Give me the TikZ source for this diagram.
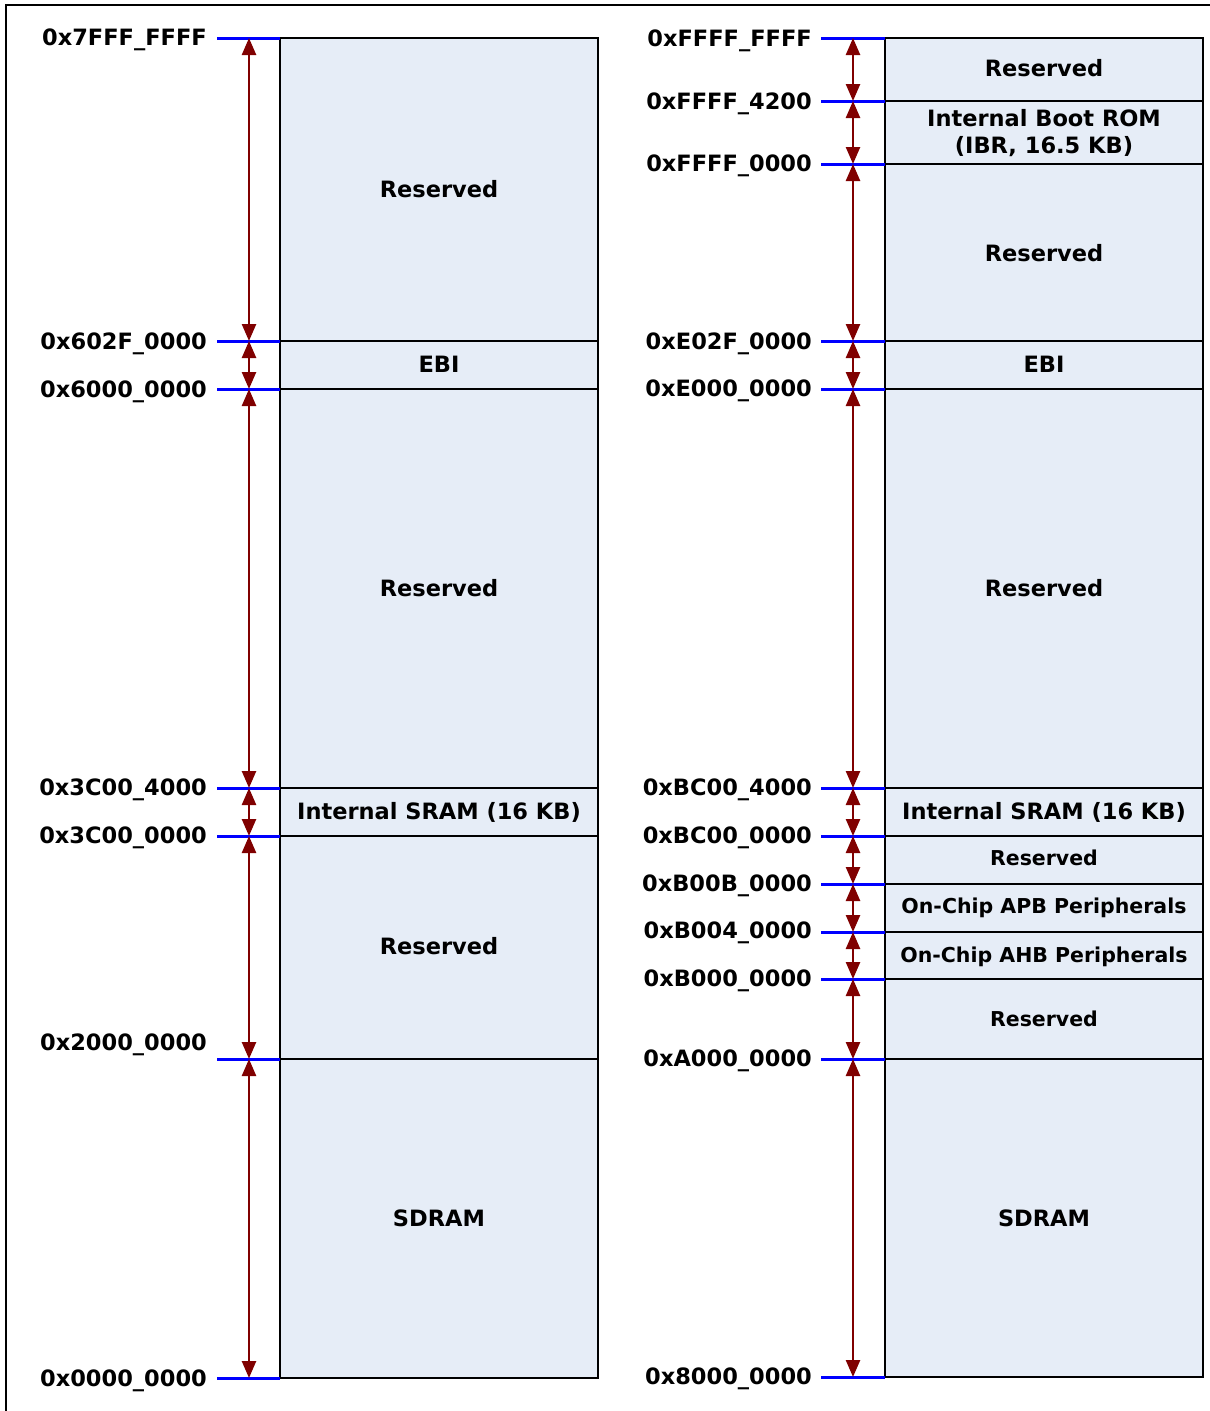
\documentclass[tikz,border=0pt]{standalone}
\usepackage{fontspec}
\setmainfont{DejaVu Sans}
\usetikzlibrary{arrows.meta}
\definecolor{regfill}{HTML}{E6EDF7}
\definecolor{arr}{HTML}{800000}
\begin{document}
\begin{tikzpicture}[x=1pt,y=-1pt,
  region/.style={draw=black,line width=2.6pt,fill=regfill},
  divider/.style={draw=black,line width=2.6pt},
  addr/.style={anchor=base east,font=\bfseries\fontsize{22.5}{27}\selectfont,inner sep=0pt},
  lbl/.style={anchor=base,font=\bfseries\fontsize{22.5}{27}\selectfont,align=center,inner sep=0pt},
  slbl/.style={anchor=base,font=\bfseries\fontsize{20.5}{24}\selectfont,align=center,inner sep=0pt},
  tickline/.style={blue,line width=3pt},
  span/.style={arr,line width=2.5pt,{Triangle[length=17pt,width=14pt]}-{Triangle[length=17pt,width=14pt]}}]
\useasboundingbox (0,0) rectangle (1210,1411);
% frame
\draw[line width=2.5pt] (6,1411) -- (6,5) -- (1210,5);

% ---------------- left column ----------------
\draw[region] (280,38) rectangle (598,1378);
\foreach \y [count=\i] in {38,341,389,788,836,1059,1378} {
  \coordinate (La\i) at (249,\y);
  \coordinate (Lt\i) at (217,\y);
  \coordinate (Lb\i) at (280,\y);
  \coordinate (Lr\i) at (598,\y);
}
\foreach \i in {2,...,6} \draw[divider] (Lb\i) -- (Lr\i);
\foreach \i in {1,...,7} \draw[tickline] (Lt\i) -- (Lb\i);
\foreach \i [evaluate=\i as \j using int(\i+1)] in {1,...,6} \draw[span] (La\i) -- (La\j);

\node[addr] (la1) at (207,45) {0x7FFF\_FFFF};
\node[addr] (la2) at (207,349) {0x602F\_0000};
\node[addr] (la3) at (207,397) {0x6000\_0000};
\node[addr] (la4) at (207,795) {0x3C00\_4000};
\node[addr] (la5) at (207,843) {0x3C00\_0000};
\node[addr] (la6) at (207,1050) {0x2000\_0000};
\node[addr] (la7) at (207,1386) {0x0000\_0000};

\node[lbl] (lr1) at (439,197) {Reserved};
\node[lbl] (lr2) at (439,372) {EBI};
\node[lbl] (lr3) at (439,596) {Reserved};
\node[lbl] (lr4) at (439,819) {Internal SRAM (16 KB)};
\node[lbl] (lr5) at (439,954) {Reserved};
\node[lbl] (lr6) at (439,1226) {SDRAM};

% ---------------- right column ----------------
\draw[region] (885,38) rectangle (1203,1377);
\foreach \y [count=\i] in {38,101,164,341,389,788,836,884,932,979,1059,1377} {
  \coordinate (Ra\i) at (853,\y);
  \coordinate (Rt\i) at (821,\y);
  \coordinate (Rb\i) at (885,\y);
  \coordinate (Rr\i) at (1203,\y);
}
\foreach \i in {2,...,11} \draw[divider] (Rb\i) -- (Rr\i);
\foreach \i in {1,...,12} \draw[tickline] (Rt\i) -- (Rb\i);
\foreach \i [evaluate=\i as \j using int(\i+1)] in {1,...,11} \draw[span] (Ra\i) -- (Ra\j);

\node[addr] (ra1) at (812,46) {0xFFFF\_FFFF};
\node[addr] (ra2) at (812,109) {0xFFFF\_4200};
\node[addr] (ra3) at (812,171) {0xFFFF\_0000};
\node[addr] (ra4) at (812,349) {0xE02F\_0000};
\node[addr] (ra5) at (812,396) {0xE000\_0000};
\node[addr] (ra6) at (812,795) {0xBC00\_4000};
\node[addr] (ra7) at (812,843) {0xBC00\_0000};
\node[addr] (ra8) at (812,891) {0xB00B\_0000};
\node[addr] (ra9) at (812,938) {0xB004\_0000};
\node[addr] (ra10) at (812,986) {0xB000\_0000};
\node[addr] (ra11) at (812,1066) {0xA000\_0000};
\node[addr] (ra12) at (812,1384) {0x8000\_0000};

\node[lbl] (rr1) at (1044,76) {Reserved};
\node[lbl,anchor=center] (rr2) at (1044,133) {Internal Boot ROM\\(IBR, 16.5 KB)};
\node[lbl] (rr3) at (1044,261) {Reserved};
\node[lbl] (rr4) at (1044,372) {EBI};
\node[lbl] (rr5) at (1044,596) {Reserved};
\node[lbl] (rr6) at (1044,819) {Internal SRAM (16 KB)};
\node[slbl] (rr7) at (1044,865) {Reserved};
\node[slbl] (rr8) at (1044,913) {On-Chip APB Peripherals};
\node[slbl] (rr9) at (1044,962) {On-Chip AHB Peripherals};
\node[slbl] (rr10) at (1044,1026) {Reserved};
\node[lbl] (rr11) at (1044,1226) {SDRAM};
\end{tikzpicture}
\end{document}
